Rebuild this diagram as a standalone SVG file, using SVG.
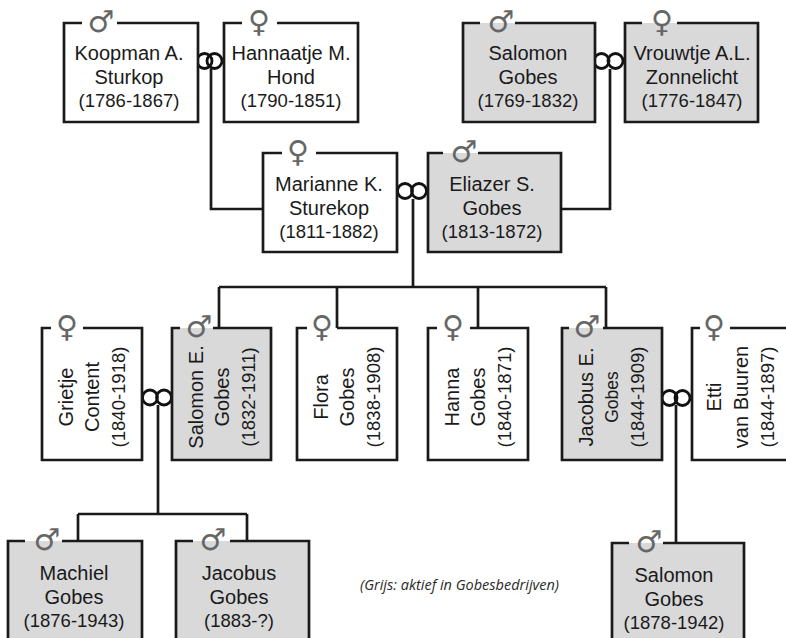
<svg xmlns="http://www.w3.org/2000/svg" width="786" height="638" viewBox="0 0 786 638">
<style>
.bg{fill:#ffffff}
.fw{fill:#ffffff;stroke:none}
.fg{fill:#d9d9da;stroke:none}
.bd{fill:none;stroke:#1a1a1a;stroke-width:2.7}
.ln{fill:none;stroke:#1a1a1a;stroke-width:2.7}
.mr{fill:none;stroke:#111;stroke-width:2.8}
.nm{font-family:"Liberation Sans",Arial,sans-serif;font-size:20px;fill:#1a1a1a;text-anchor:middle}
.dt{font-size:18.5px}
.sym{font-family:"DejaVu Sans",sans-serif;font-size:30px;fill:#666;text-anchor:middle}
.cap{font-family:"Open Sans","DejaVu Sans",sans-serif;font-style:italic;font-size:14.5px;fill:#2a2a2a}
</style>
<rect class="bg" x="0" y="0" width="786" height="638"/>

<g id="connectors">
  <path class="ln" d="M211,69 V209 H263"/>
  <path class="ln" d="M610,69 V209 H561"/>
  <path class="ln" d="M413,199 V287"/>
  <path class="ln" d="M219,287 H606"/>
  <path class="ln" d="M219,287 V328 M337,287 V328 M478,287 V328 M606,287 V328"/>
  <path class="ln" d="M158,405 V514 M78,514 H247 M78,514 V541 M247,514 V541"/>
  <path class="ln" d="M676,405 V543"/>
  <g id="marriages">
    <circle class="mr" cx="204.5" cy="61" r="7.5"/><circle class="mr" cx="214.5" cy="61" r="7.5"/>
    <circle class="mr" cx="601.5" cy="61" r="7.5"/><circle class="mr" cx="615.5" cy="61" r="7.5"/>
    <circle class="mr" cx="405" cy="191" r="7.5"/><circle class="mr" cx="419" cy="191" r="7.5"/>
    <circle class="mr" cx="150" cy="397.5" r="7.5"/><circle class="mr" cx="164" cy="397.5" r="7.5"/>
    <circle class="mr" cx="669.5" cy="398" r="7.5"/><circle class="mr" cx="682.5" cy="398" r="7.5"/>
  </g>
</g>

<g id="koopman">
  <rect class="fw" x="64" y="23" width="134" height="99"/>
  <path class="bd" d="M117,23 H198 V122 H64 V23 H82"/>
  <text class="sym" x="101" y="32">♂</text>
  <text class="nm"><tspan x="129" y="60">Koopman A.</tspan><tspan x="129" y="84">Sturkop</tspan><tspan class="dt" x="129" y="107">(1786-1867)</tspan></text>
</g>
<g id="hannaatje">
  <rect class="fw" x="224" y="23" width="134" height="99"/>
  <path class="bd" d="M277,23 H358 V122 H224 V23 H242"/>
  <text class="sym" x="259" y="32">♀</text>
  <text class="nm"><tspan x="291" y="60">Hannaatje M.</tspan><tspan x="291" y="84">Hond</tspan><tspan class="dt" x="291" y="107">(1790-1851)</tspan></text>
</g>
<g id="salomon-1769">
  <rect class="fg" x="463" y="23" width="132" height="99"/>
  <path class="bd" d="M515,23 H595 V122 H463 V23 H480"/>
  <text class="sym" x="501" y="32">♂</text>
  <text class="nm"><tspan x="528" y="60">Salomon</tspan><tspan x="528" y="84">Gobes</tspan><tspan class="dt" x="528" y="107">(1769-1832)</tspan></text>
</g>
<g id="vrouwtje">
  <rect class="fg" x="625" y="23" width="133" height="99"/>
  <path class="bd" d="M677,23 H758 V122 H625 V23 H642"/>
  <text class="sym" x="662" y="32">♀</text>
  <text class="nm"><tspan x="692" y="60">Vrouwtje A.L.</tspan><tspan x="692" y="84">Zonnelicht</tspan><tspan class="dt" x="692" y="107">(1776-1847)</tspan></text>
</g>
<g id="marianne">
  <rect class="fw" x="263" y="153" width="134" height="99"/>
  <path class="bd" d="M316,153 H397 V252 H263 V153 H282"/>
  <text class="sym" x="298" y="162">♀</text>
  <text class="nm"><tspan x="329" y="191">Marianne K.</tspan><tspan x="329" y="215">Sturekop</tspan><tspan class="dt" x="329" y="238">(1811-1882)</tspan></text>
</g>
<g id="eliazer">
  <rect class="fg" x="428" y="153" width="133" height="99"/>
  <path class="bd" d="M478,153 H561 V252 H428 V153 H443"/>
  <text class="sym" x="464" y="162">♂</text>
  <text class="nm"><tspan x="492" y="191">Eliazer S.</tspan><tspan x="492" y="215">Gobes</tspan><tspan class="dt" x="492" y="238">(1813-1872)</tspan></text>
</g>

<g id="grietje">
  <rect class="fw" x="42" y="328" width="100" height="132"/>
  <path class="bd" d="M83,328 H142 V460 H42 V328 H51"/>
  <text class="sym" x="67" y="337">♀</text>
  <text class="nm" transform="translate(92,397) rotate(-90)"><tspan x="0" y="-19">Grietje</tspan><tspan x="0" y="7">Content</tspan><tspan class="dt" x="0" y="33">(1840-1918)</tspan></text>
</g>
<g id="salomon-1832">
  <rect class="fg" x="172" y="328" width="99" height="132"/>
  <path class="bd" d="M213,328 H271 V460 H172 V328 H180"/>
  <text class="sym" x="199" y="337">♂</text>
  <text class="nm" transform="translate(222,397) rotate(-90)"><tspan x="0" y="-19">Salomon E.</tspan><tspan x="0" y="7">Gobes</tspan><tspan class="dt" x="0" y="33">(1832-1911)</tspan></text>
</g>
<g id="flora">
  <rect class="fw" x="297" y="328" width="100" height="132"/>
  <path class="bd" d="M337,328 H397 V460 H297 V328 H307"/>
  <text class="sym" x="322" y="337">♀</text>
  <text class="nm" transform="translate(347,397) rotate(-90)"><tspan x="0" y="-19">Flora</tspan><tspan x="0" y="7">Gobes</tspan><tspan class="dt" x="0" y="33">(1838-1908)</tspan></text>
</g>
<g id="hanna">
  <rect class="fw" x="428" y="328" width="100" height="132"/>
  <path class="bd" d="M470,328 H528 V460 H428 V328 H437"/>
  <text class="sym" x="453" y="337">♀</text>
  <text class="nm" transform="translate(478,397) rotate(-90)"><tspan x="0" y="-19">Hanna</tspan><tspan x="0" y="7">Gobes</tspan><tspan class="dt" x="0" y="33">(1840-1871)</tspan></text>
</g>
<g id="jacobus-1844">
  <rect class="fg" x="562" y="328" width="100" height="132"/>
  <path class="bd" d="M603,328 H662 V460 H562 V328 H569"/>
  <text class="sym" x="587" y="337">♂</text>
  <text class="nm" transform="translate(612,397) rotate(-90)"><tspan x="0" y="-19">Jacobus E.</tspan><tspan x="0" y="6" style="font-size:17.5px">Gobes</tspan><tspan class="dt" x="0" y="32">(1844-1909)</tspan></text>
</g>
<g id="etti">
  <rect class="fw" x="692" y="328" width="110" height="132"/>
  <path class="bd" d="M730,328 H800 M800,460 H692 V328 H700"/>
  <text class="sym" x="714" y="337">♀</text>
  <text class="nm" transform="translate(741,397) rotate(-90)"><tspan x="0" y="-20">Etti</tspan><tspan x="0" y="7">van Buuren</tspan><tspan class="dt" x="0" y="33">(1844-1897)</tspan></text>
</g>

<g id="machiel">
  <rect class="fg" x="8" y="541" width="134" height="110"/>
  <path class="bd" d="M62,541 H142 V650 M8,650 V541 H25"/>
  <text class="sym" x="47" y="550">♂</text>
  <text class="nm"><tspan x="74" y="580">Machiel</tspan><tspan x="74" y="604">Gobes</tspan><tspan class="dt" x="74" y="627">(1876-1943)</tspan></text>
</g>
<g id="jacobus-1883">
  <rect class="fg" x="176" y="541" width="133" height="110"/>
  <path class="bd" d="M230,541 H309 V650 M176,650 V541 H193"/>
  <text class="sym" x="213" y="550">♂</text>
  <text class="nm"><tspan x="239" y="580">Jacobus</tspan><tspan x="239" y="604">Gobes</tspan><tspan class="dt" x="239" y="627">(1883-?)</tspan></text>
</g>
<g id="salomon-1878">
  <rect class="fg" x="612" y="543" width="132" height="110"/>
  <path class="bd" d="M663,543 H744 V650 M612,650 V543 H629"/>
  <text class="sym" x="649" y="552">♂</text>
  <text class="nm"><tspan x="674" y="582">Salomon</tspan><tspan x="674" y="606">Gobes</tspan><tspan class="dt" x="674" y="629">(1878-1942)</tspan></text>
</g>

<text class="cap" x="360" y="590">(Grijs: aktief in Gobesbedrijven)</text>
</svg>
